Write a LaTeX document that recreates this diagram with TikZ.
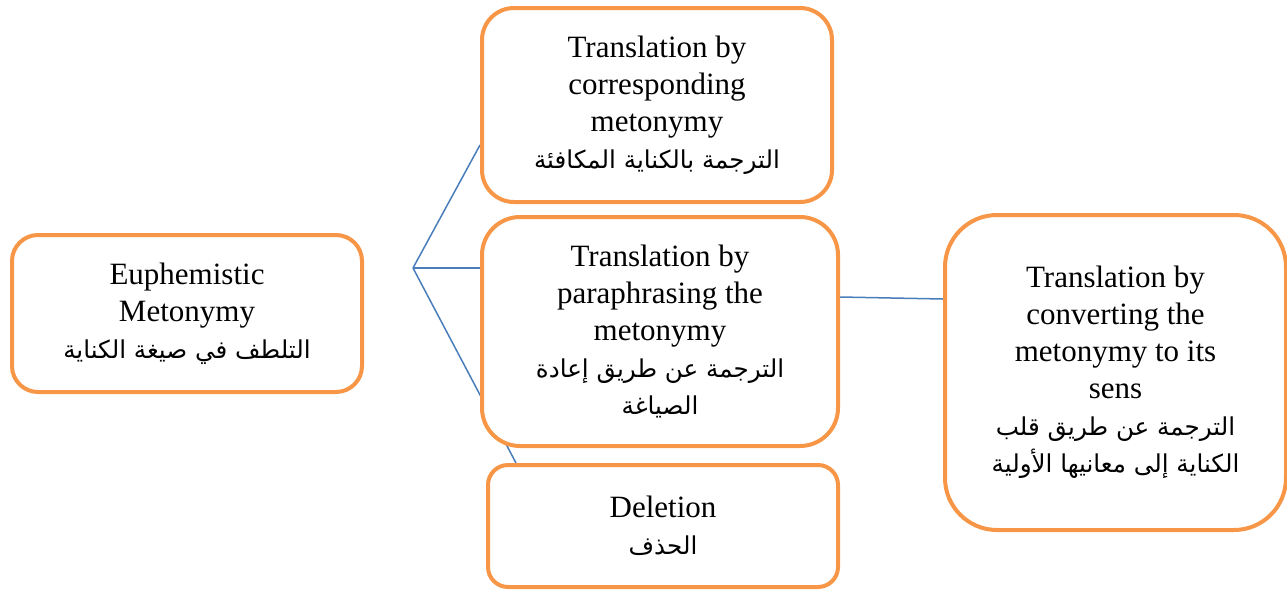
\documentclass[tikz,border=0pt]{standalone}
\usepackage{fontspec}
\setmainfont{Liberation Serif}
\newfontfamily\arabicfont[Script=Arabic]{DejaVu Sans}
\TeXXeTstate=1
\usetikzlibrary{calc,backgrounds}
\definecolor{boxorange}{HTML}{F79646}
\definecolor{lineblue}{HTML}{4A7EBB}
\newcommand{\artext}[1]{{\arabicfont\fontsize{24.6}{37}\selectfont\beginR #1\endR}}

\begin{document}
\begin{tikzpicture}[x=1pt, y=-1pt, line width=4pt,
  box/.style={draw=boxorange, fill=white, rounded corners=#1, align=center,
    inner sep=0pt, font=\fontsize{31}{37}\selectfont},
  box/.default=26pt,
  link/.style={draw=lineblue, line width=1.5pt}]
\useasboundingbox (0,0) rectangle (1287,592);
\node[box=26pt, minimum width=350pt, minimum height=157pt] at (187,313.5) (n1) {Euphemistic\\Metonymy\\\artext{التلطف في صيغة الكناية}};
\node[box=32pt, minimum width=350pt, minimum height=194pt] at (657,105) (n2) {Translation by\\corresponding\\metonymy\\\artext{الترجمة بالكناية المكافئة}};
\node[box=38pt, minimum width=356pt, minimum height=229pt] at (660,331.5) (n3) {Translation by\\paraphrasing the\\metonymy\\\artext{الترجمة عن طريق  إعادة}\\\artext{الصياغة}};
\node[box=20pt, minimum width=350pt, minimum height=122pt] at (663,526) (n4) {Deletion\\\artext{الحذف}};
\node[box=52pt, minimum width=341pt, minimum height=315pt] at (1115.5,372.5) (n5) {Translation by\\converting the\\metonymy to its\\sens\\\artext{الترجمة عن طريق قلب}\\\artext{الكناية إلى معانيها الأولية}};
% branches from the left box
\coordinate (br) at (413,268);
\begin{pgfonlayer}{background}
\path[link] (br) -- ($(n2.west)+(0,40)$);
\path[link] (br) -- (n3.west |- br);
\path[link] (br) -- ($(n4.north west)+(30,0)$);
\path[link] ($(n3.east)+(0,-34.5)$) -- ($(n5.west)+(0,-73.5)$);
\end{pgfonlayer}
\end{tikzpicture}
\end{document}
